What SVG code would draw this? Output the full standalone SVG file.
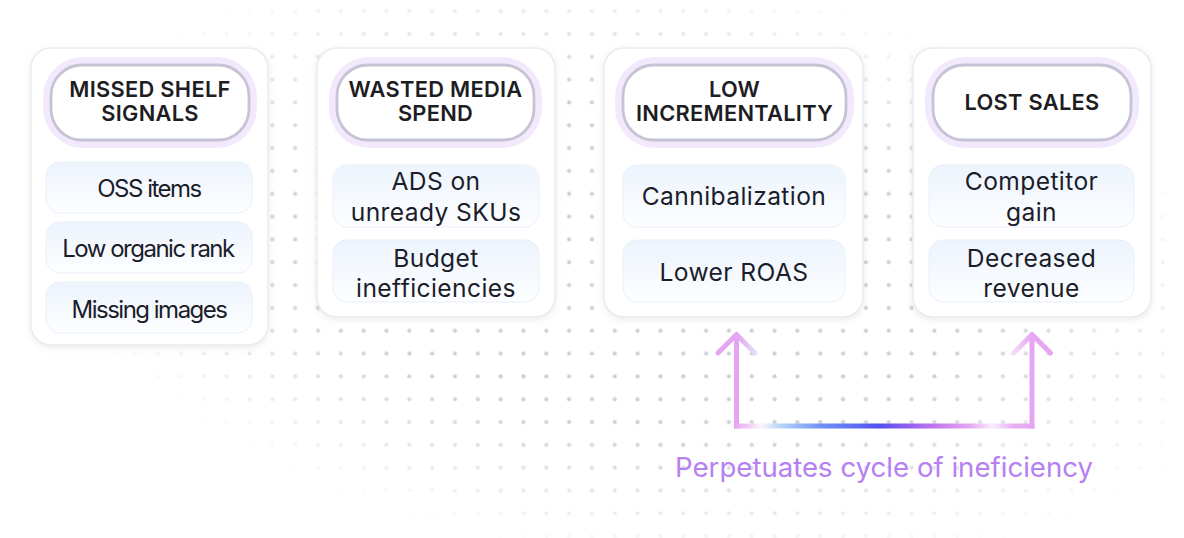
<svg xmlns="http://www.w3.org/2000/svg" width="1184" height="538" viewBox="0 0 1184 538">
  <defs>
    <style>
      .card { fill: #ffffff; stroke: #ebebef; stroke-width: 1.5; filter: url(#cardShadow); }
      .halo { fill: #f2eafc; }
      .pill { fill: #ffffff; stroke: #c6c3d4; stroke-width: 2.8; }
      .item { fill: url(#itemGrad); stroke: #e8f0fa; stroke-width: 1; }
      .title { font-family: Inter, "Liberation Sans", sans-serif; font-weight: 600; font-size: 21.8px; fill: #1d1d23; text-anchor: middle; letter-spacing: 0.3px; }
      .body { font-family: Inter, "Liberation Sans", sans-serif; font-weight: 400; font-size: 24.6px; fill: #1b1d2b; text-anchor: middle; letter-spacing: 0.4px; }
      .tight { font-family: Inter, "Liberation Sans", sans-serif; font-weight: 400; font-size: 24px; fill: #1b1d2b; text-anchor: middle; letter-spacing: -1.5px; }
      .caption { font-family: Inter, "Liberation Sans", sans-serif; font-weight: 400; font-size: 27.6px; fill: #b680f2; text-anchor: middle; }
      .arrowV { fill: none; stroke: #e6a5f2; stroke-width: 5; }
      .head { fill: none; stroke-width: 5; stroke-linecap: round; stroke-linejoin: round; }
    </style>
    <filter id="cardShadow" x="-10%" y="-10%" width="120%" height="125%">
      <feDropShadow dx="0" dy="2" stdDeviation="3" flood-color="#8a8aa0" flood-opacity="0.18"/>
    </filter>
    <linearGradient id="itemGrad" x1="0" y1="0" x2="0" y2="1">
      <stop offset="0" stop-color="#edf4fd"/>
      <stop offset="1" stop-color="#fdfeff"/>
    </linearGradient>
    <pattern id="dots" patternUnits="userSpaceOnUse" x="9.8" y="-0.2" width="22.83" height="22.83">
      <circle cx="11.4" cy="11.4" r="2.1" fill="#cdd0da"/>
    </pattern>
    <radialGradient id="fade" gradientUnits="userSpaceOnUse" cx="0" cy="0" r="1" gradientTransform="translate(640 265) rotate(8) scale(615 300)">
      <stop offset="0" stop-color="#fff" stop-opacity="1"/>
      <stop offset="0.55" stop-color="#fff" stop-opacity="1"/>
      <stop offset="1" stop-color="#fff" stop-opacity="0"/>
    </radialGradient>
    <mask id="dotMask" maskUnits="userSpaceOnUse" x="0" y="0" width="1184" height="538">
      <rect x="0" y="0" width="1184" height="538" fill="url(#fade)"/>
    </mask>
    <linearGradient id="hGrad" gradientUnits="userSpaceOnUse" x1="734" y1="0" x2="1034.5" y2="0">
      <stop offset="0" stop-color="#e6a4f2"/>
      <stop offset="0.05" stop-color="#f0cdf7"/>
      <stop offset="0.09" stop-color="#fbf6fd"/>
      <stop offset="0.15" stop-color="#bcd5f7"/>
      <stop offset="0.28" stop-color="#7196f4"/>
      <stop offset="0.48" stop-color="#5152ef"/>
      <stop offset="0.57" stop-color="#8b5cf0"/>
      <stop offset="0.68" stop-color="#c67cec"/>
      <stop offset="0.78" stop-color="#e2a5f2"/>
      <stop offset="0.86" stop-color="#f9edfb"/>
      <stop offset="0.93" stop-color="#e8aef3"/>
      <stop offset="1" stop-color="#e6a4f2"/>
    </linearGradient>
    <linearGradient id="headL" gradientUnits="userSpaceOnUse" x1="718" y1="0" x2="756" y2="0">
      <stop offset="0" stop-color="#e6a4f2"/>
      <stop offset="0.55" stop-color="#e6a8f2"/>
      <stop offset="1" stop-color="#e6e2f8"/>
    </linearGradient>
    <linearGradient id="headR" gradientUnits="userSpaceOnUse" x1="1013" y1="0" x2="1051" y2="0">
      <stop offset="0" stop-color="#f5def9"/>
      <stop offset="0.45" stop-color="#e6a8f2"/>
      <stop offset="1" stop-color="#e6a4f2"/>
    </linearGradient>
  </defs>

  <rect x="0" y="0" width="1184" height="538" fill="#ffffff"/>
  <rect x="0" y="0" width="1184" height="538" fill="url(#dots)" mask="url(#dotMask)"/>

  <g id="node-missed-shelf-signals">
    <rect class="card" x="31" y="48" width="237" height="297" rx="20"/>
    <rect class="halo" x="43" y="57" width="214" height="91" rx="40"/>
    <rect class="pill" x="51" y="65" width="198" height="75" rx="31"/>
    <text class="title" x="150" y="97">MISSED SHELF</text>
    <text class="title" x="150" y="121">SIGNALS</text>
    <rect class="item" x="46" y="162" width="206" height="51" rx="14"/>
    <text class="tight" x="149" y="197">OSS items</text>
    <rect class="item" x="46" y="222" width="206" height="51" rx="14"/>
    <text class="tight" x="148" y="257">Low organic rank</text>
    <rect class="item" x="46" y="282" width="206" height="51" rx="14"/>
    <text class="tight" x="149" y="318">Missing images</text>
  </g>

  <g id="node-wasted-media-spend">
    <rect class="card" x="317" y="48" width="238" height="269" rx="20"/>
    <rect class="halo" x="329" y="57" width="213" height="91" rx="40"/>
    <rect class="pill" x="337" y="65" width="197" height="75" rx="31"/>
    <text class="title" x="435.5" y="97">WASTED MEDIA</text>
    <text class="title" x="435.5" y="121">SPEND</text>
    <rect class="item" x="333" y="165" width="206" height="62" rx="14"/>
    <text class="body" x="436" y="190">ADS on</text>
    <text class="body" x="436" y="221">unready SKUs</text>
    <rect class="item" x="333" y="240" width="206" height="62" rx="14"/>
    <text class="body" x="436" y="267">Budget</text>
    <text class="body" x="436" y="297">inefficiencies</text>
  </g>

  <g id="node-low-incrementality">
    <rect class="card" x="604" y="48" width="259" height="269" rx="20"/>
    <rect class="halo" x="615" y="57" width="239" height="91" rx="40"/>
    <rect class="pill" x="623" y="65" width="223" height="75" rx="31"/>
    <text class="title" x="734.5" y="97">LOW</text>
    <text class="title" x="734.5" y="121">INCREMENTALITY</text>
    <rect class="item" x="623" y="165" width="222" height="62" rx="14"/>
    <text class="body" x="734" y="205">Cannibalization</text>
    <rect class="item" x="623" y="240" width="222" height="62" rx="14"/>
    <text class="body" x="734" y="281">Lower ROAS</text>
  </g>

  <g id="node-lost-sales">
    <rect class="card" x="913" y="48" width="238" height="269" rx="20"/>
    <rect class="halo" x="925" y="57" width="214" height="91" rx="40"/>
    <rect class="pill" x="933" y="65" width="198" height="75" rx="31"/>
    <text class="title" x="1032" y="110">LOST SALES</text>
    <rect class="item" x="929" y="165" width="205" height="62" rx="14"/>
    <text class="body" x="1031.5" y="190">Competitor</text>
    <text class="body" x="1031.5" y="221">gain</text>
    <rect class="item" x="929" y="240" width="205" height="62" rx="14"/>
    <text class="body" x="1031.5" y="267">Decreased</text>
    <text class="body" x="1031.5" y="297">revenue</text>
  </g>

  <g id="connectors">
    <line class="arrowV" x1="736.5" y1="336" x2="736.5" y2="428.5"/>
    <line class="arrowV" x1="1032" y1="336" x2="1032" y2="428.5"/>
    <line x1="734" y1="426" x2="1034.5" y2="426" stroke="url(#hGrad)" stroke-width="5"/>
    <polyline class="head" points="718,353 736.5,334.5 755,353" stroke="url(#headL)"/>
    <polyline class="head" points="1013.5,353 1032,334.5 1050.5,353" stroke="url(#headR)"/>
  </g>

  <g id="label-cycle">
    <text class="caption" x="884" y="477">Perpetuates cycle of ineficiency</text>
  </g>
</svg>
